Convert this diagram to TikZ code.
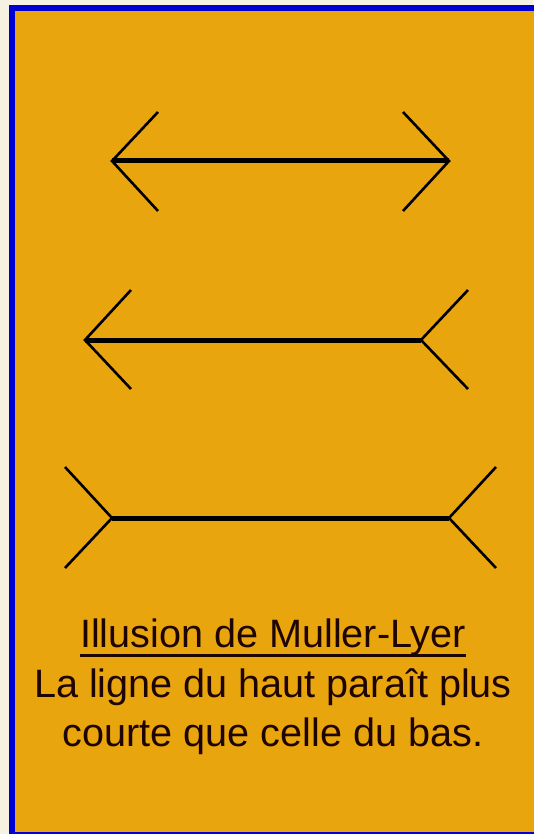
\documentclass[tikz,border=0pt]{standalone}
\usepackage{fontspec}
\setmainfont{Liberation Sans}
\definecolor{cream}{RGB}{246,242,226}
\definecolor{amber}{RGB}{232,165,14}
\definecolor{frameblue}{RGB}{0,0,210}
\definecolor{ink}{RGB}{30,5,0}
\begin{document}
\begin{tikzpicture}[x=1pt,y=-1pt,
  shaft/.style={line width=5pt},
  fin/.style={line width=2.6pt, line cap=butt, line join=miter},
  txt/.style={inner sep=0pt, text=ink, font=\fontsize{39.6}{46}\selectfont},
]
\useasboundingbox (0,0) rectangle (533,834);
\fill[cream] (0,0) rectangle (533,834);
\fill[frameblue] (9,5) rectangle (540,834);
\fill[amber] (15,11) rectangle (540,832);

% Arrow 1 (outward tips)
\coordinate (a1l) at (112,161);
\coordinate (a1r) at (449,161);
\draw[shaft] (a1l) -- (a1r);
\draw[fin] (158,112) -- (a1l) -- (158,211);
\draw[fin] (403,112) -- (a1r) -- (403,211);

% Arrow 2 (left outward, right inward)
\coordinate (a2l) at (85,340);
\coordinate (a2r) at (421,340);
\draw[shaft] (a2l) -- (a2r);
\draw[fin] (131,290) -- (a2l) -- (131,389);
\draw[fin] (468,290) -- (a2r) -- (468,389);

% Arrow 3 (inward tails)
\coordinate (a3l) at (112,518);
\coordinate (a3r) at (449,518);
\draw[shaft] (a3l) -- (a3r);
\draw[fin] (65,467) -- (a3l) -- (65,568);
\draw[fin] (496,467) -- (a3r) -- (496,568);

% Caption
\node[txt, anchor=base] (title) at (273,647) {Illusion de Muller-Lyer};
\draw[line width=2.6pt, ink] ([yshift=-8.5pt]title.base west) -- ([yshift=-8.5pt]title.base east);
\node[txt, anchor=base] (line1) at (273,697) {La ligne du haut paraît plus};
\node[txt, anchor=base] (line2) at (273,746) {courte que celle du bas.};
\end{tikzpicture}
\end{document}
